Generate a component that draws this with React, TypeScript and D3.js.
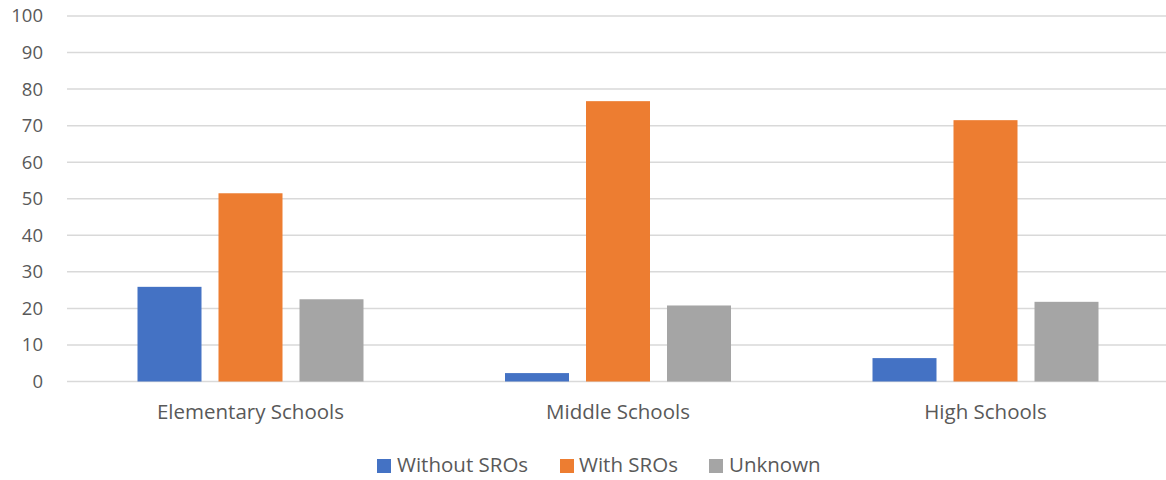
import React from "react";
import * as d3 from "d3";

const categories = ["Elementary Schools", "Middle Schools", "High Schools"];
const seriesNames = ["Without SROs", "With SROs", "Unknown"];
const withoutSROs = [25.9, 2.3, 6.4];
const withSROs = [51.5, 76.7, 71.5];
const unknown = [22.5, 20.8, 21.8];
const yTicks = [0, 10, 20, 30, 40, 50, 60, 70, 80, 90, 100];
const colors = ["#4472C4", "#ED7D31", "#A5A5A5"];

const W = 1166;
const H = 480;
const FONT = "'Open Sans', sans-serif";

export default function App() {
  const seriesValues = [withoutSROs, withSROs, unknown];
  const x0 = d3.scaleBand<string>().domain(categories).range([66.75, 1169.25]).padding(0);
  const x1 = d3
    .scaleBand<string>()
    .domain(seriesNames)
    .range([0, 226])
    .paddingInner(17 / 81)
    .paddingOuter(0);
  const y = d3.scaleLinear().domain([0, 100]).range([381.5, 16]);
  const groupOffset = (x0.bandwidth() - 226) / 2;

  const legendItems = [
    { name: seriesNames[0], sq: 377, tx: 397 },
    { name: seriesNames[1], sq: 560, tx: 579 },
    { name: seriesNames[2], sq: 709, tx: 729 },
  ];

  return (
    <svg
      width={W}
      height={H}
      style={{ position: "absolute", left: 0, top: 0, background: "#fff" }}
      fontFamily={FONT}
    >
      {yTicks.map((t) => (
        <g key={t}>
          <line x1={67} x2={1166} y1={y(t)} y2={y(t)} stroke="#d9d9d9" strokeWidth={1.5} />
          <text
            x={43}
            y={y(t)}
            dy="0.35em"
            textAnchor="end"
            fontSize={18.5}
            fill="#595959"
          >
            {t}
          </text>
        </g>
      ))}
      {categories.map((c, ci) => (
        <g key={c} transform={`translate(${(x0(c) ?? 0) + groupOffset},0)`}>
          {seriesNames.map((s, si) => {
            const v = seriesValues[si][ci];
            return (
              <rect
                key={s}
                x={x1(s)}
                y={y(v)}
                width={x1.bandwidth()}
                height={y(0) - y(v)}
                fill={colors[si]}
              />
            );
          })}
        </g>
      ))}
      {categories.map((c) => (
        <text
          key={c}
          x={(x0(c) ?? 0) + x0.bandwidth() / 2}
          y={419}
          textAnchor="middle"
          fontSize={20.5}
          fill="#595959"
        >
          {c}
        </text>
      ))}
      {legendItems.map((it, i) => (
        <g key={it.name}>
          <rect x={it.sq} y={459} width={14} height={14} fill={colors[i]} />
          <text x={it.tx} y={472} fontSize={20.5} fill="#595959">
            {it.name}
          </text>
        </g>
      ))}
    </svg>
  );
}
